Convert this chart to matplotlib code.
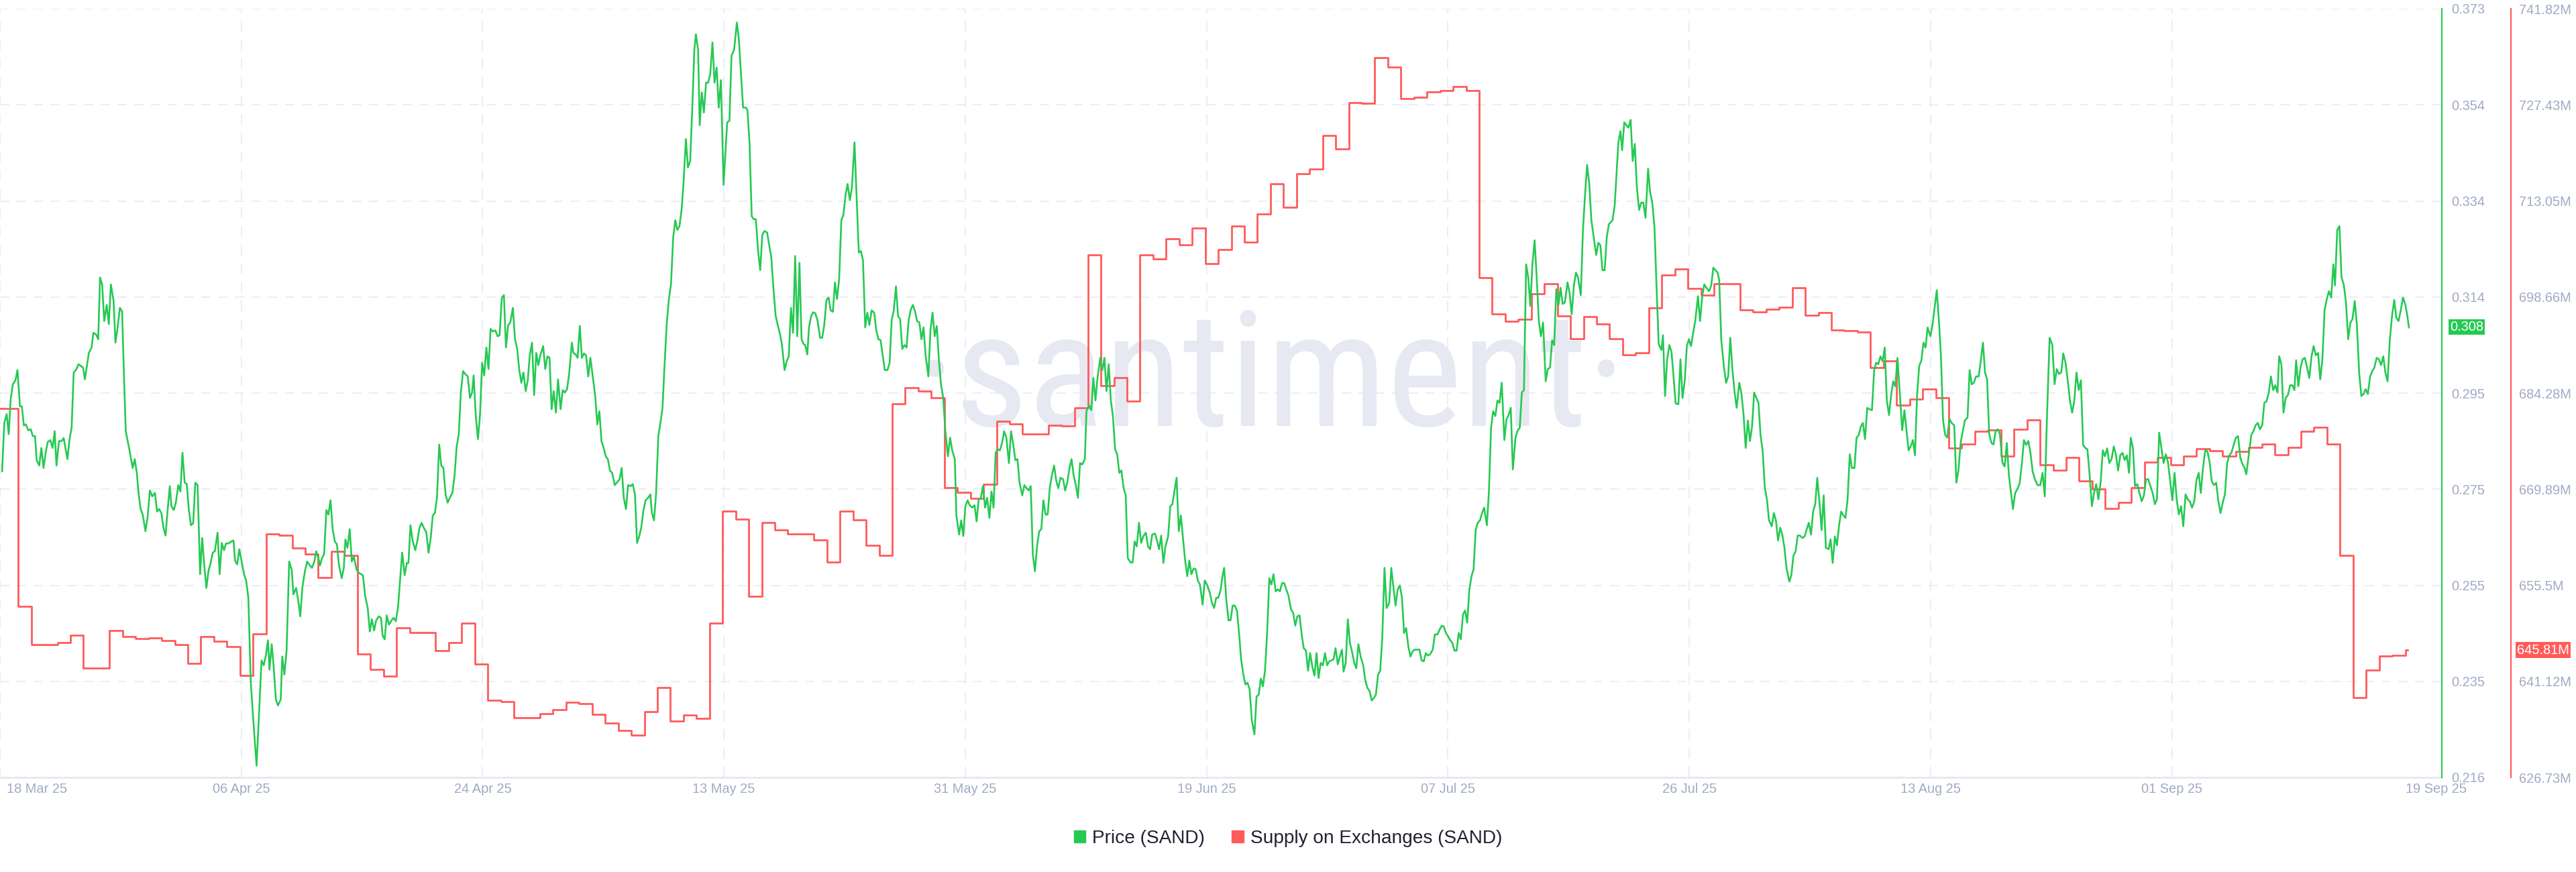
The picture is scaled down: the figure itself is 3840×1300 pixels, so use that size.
import numpy as np
import matplotlib
matplotlib.use("Agg")
import matplotlib.pyplot as plt
from matplotlib import font_manager
from matplotlib.patches import Patch
from matplotlib.transforms import blended_transform_factory, ScaledTranslation

GREEN = "#26c953"
RED = "#ff5b5b"
GRID = "#e6e8f2"
TICK = "#a0aac4"

# x values are days after 18 Mar 2025 00:00
price_day = [
    0.16, 0.33, 0.51, 0.67, 0.81, 0.98, 1.18, 1.34, 1.53, 1.67,
    1.83, 1.99, 2.16, 2.36, 2.52, 2.69, 2.81, 3.01, 3.17, 3.34,
    3.50, 3.66, 3.86, 4.03, 4.19, 4.33, 4.52, 4.72, 4.88, 5.17,
    5.33, 5.49, 5.65, 5.86, 6.02, 6.37, 6.51, 6.81, 7.02, 7.16,
    7.36, 7.53, 7.67, 7.83, 7.99, 8.18, 8.34, 8.50, 8.71, 8.85,
    8.99, 9.19, 9.36, 9.48, 9.64, 9.93, 10.17, 10.33, 10.49, 10.62,
    10.78, 10.94, 11.15, 11.31, 11.49, 11.67, 11.88, 12.04, 12.20, 12.37,
    12.53, 12.69, 12.85, 13.02, 13.14, 13.32, 13.48, 13.67, 13.83, 13.99,
    14.16, 14.32, 14.48, 14.64, 14.81, 14.97, 15.15, 15.34, 15.50, 15.66,
    15.82, 15.99, 16.15, 16.31, 16.47, 16.68, 16.84, 17.00, 17.17, 17.33,
    17.53, 17.74, 17.90, 18.02, 18.18, 18.35, 18.51, 18.71, 18.87, 19.04,
    19.22, 19.42, 19.67, 19.85, 20.05, 20.22, 20.38, 20.54, 20.66, 20.83,
    20.99, 21.15, 21.31, 21.52, 21.64, 21.80, 21.97, 22.17, 22.37, 22.49,
    22.70, 22.86, 23.02, 23.19, 23.39, 23.55, 23.75, 23.92, 24.12, 24.24,
    24.41, 24.53, 24.69, 24.85, 25.02, 25.18, 25.34, 25.50, 25.67, 25.83,
    25.99, 26.20, 26.36, 26.48, 26.64, 26.81, 26.97, 27.13, 27.33, 27.50,
    27.82, 27.99, 28.19, 28.35, 28.51, 28.68, 28.84, 29.04, 29.21, 29.33,
    29.49, 29.65, 29.82, 30.02, 30.18, 30.34, 30.51, 30.67, 30.83,
    30.86, 31.02, 31.19, 31.31, 31.47, 31.63, 31.84, 32.00, 32.16, 32.32,
    32.49, 32.69, 32.85, 33.02, 33.18, 33.34, 33.50, 33.67, 33.83, 33.99,
    34.16, 34.32, 34.48, 34.68, 34.85, 35.01, 35.17, 35.33, 35.50, 35.66,
    35.86, 36.03, 36.19, 36.31, 36.47, 36.64, 36.80, 36.96, 37.12, 37.29,
    37.45, 37.61, 37.78, 37.98, 38.14, 38.30, 38.47, 38.63, 38.79, 38.96,
    39.12, 39.32, 39.48, 39.65, 39.81, 39.97, 40.13, 40.30, 40.46, 40.62,
    40.79, 40.95, 41.11, 41.27, 41.44, 41.64, 41.80, 41.97, 42.13, 42.29,
    42.45, 42.62, 42.78, 42.98, 43.14, 43.31, 43.47, 43.63, 43.84, 43.96,
    44.12, 44.28, 44.45, 44.61, 44.77, 44.93, 45.10, 45.26, 45.42, 45.63,
    45.79, 45.95, 46.11, 46.28, 46.44, 46.60, 46.76, 46.93, 47.13, 47.29,
    47.50, 47.66, 47.82, 47.99, 48.15, 48.35, 48.51, 48.68, 48.84, 49.00,
    49.16, 49.33, 49.49, 49.69, 49.86, 49.98, 50.14, 50.30, 50.47, 50.63,
    50.79, 50.95, 51.12, 51.28, 51.44, 51.61, 51.77, 51.93, 52.09, 52.26,
    52.42, 52.58, 52.74, 52.91, 53.07, 53.23, 53.35, 53.52, 53.64, 53.80,
    53.96, 54.13, 54.29, 54.45, 54.62, 54.78, 54.94, 55.10, 55.27, 55.47,
    55.59, 55.75, 55.92, 56.08, 56.28, 56.49, 56.65, 56.81, 56.97, 57.18,
    57.30, 57.46, 57.63, 57.79, 57.95, 58.11, 58.28, 58.44, 58.60, 58.81,
    58.97, 59.13, 59.29, 59.46, 59.62, 59.78, 59.94, 60.15, 60.31, 60.47,
    60.64, 60.80, 60.96, 61.12, 61.29, 61.45, 61.61,
    61.73, 61.89, 62.02, 62.18, 62.34, 62.50, 62.67, 62.87, 63.03, 63.19,
    63.36, 63.52, 63.68, 63.85, 64.01, 64.17, 64.33, 64.50, 64.66, 64.82,
    64.98, 65.15, 65.31, 65.51, 65.68, 65.84, 66.00, 66.16, 66.33, 66.49,
    66.65, 66.82, 67.02, 67.18, 67.34, 67.51, 67.67, 67.83, 68.04, 68.20,
    68.36, 68.52, 68.69, 68.85, 69.01, 69.17, 69.34, 69.50, 69.66, 69.83,
    69.99, 70.15, 70.31, 70.48, 70.64, 70.80, 70.96, 71.17, 71.33, 71.49,
    71.66, 71.82, 71.98, 72.14, 72.31, 72.47, 72.67, 72.84, 73.00, 73.20,
    73.32, 73.53, 73.69, 73.85, 74.01, 74.18, 74.34, 74.54, 74.71, 74.87,
    75.03, 75.19, 75.36, 75.52, 75.68, 75.85, 76.01, 76.17, 76.33, 76.50,
    76.66, 76.82, 76.98, 77.15, 77.35, 77.51, 77.68, 77.84, 78.00, 78.16,
    78.37, 78.53, 78.69, 78.86, 79.02, 79.18, 79.34, 79.51, 79.67, 79.83,
    79.99, 80.16, 80.32, 80.48, 80.64, 80.81, 80.97, 81.13, 81.30, 81.50,
    81.66, 81.82, 81.99, 82.15, 82.31, 82.48, 82.64, 82.80, 82.96, 83.17,
    83.29, 83.49, 83.66, 83.82, 83.98, 84.14, 84.35, 84.51, 84.67, 84.83,
    85.00, 85.16, 85.32, 85.49, 85.65, 85.81, 85.97, 86.14, 86.30, 86.46,
    86.67, 86.83, 86.99, 87.15, 87.32, 87.48, 87.64, 87.84, 88.01, 88.17,
    88.33, 88.54, 88.70, 88.86, 89.02, 89.19, 89.35, 89.55, 89.72, 89.88,
    90.04, 90.20, 90.37, 90.53, 90.69, 90.85, 91.02, 91.18, 91.34, 91.51,
    91.67, 91.83, 91.99, 92.20, 92.36, 92.52,
    92.59, 92.75, 92.92, 93.08, 93.24, 93.40, 93.57, 93.73, 93.85, 94.01,
    94.18, 94.34, 94.50, 94.66, 94.83, 94.99, 95.15, 95.32, 95.48, 95.64,
    95.80, 95.97, 96.17, 96.33, 96.50, 96.66, 96.82, 96.98, 97.15, 97.31,
    97.47, 97.63, 97.80, 97.96, 98.12, 98.29, 98.45, 98.61, 98.77, 98.98,
    99.14, 99.30, 99.46, 99.63, 99.79, 99.95, 100.12, 100.28, 100.44, 100.60,
    100.77, 100.93, 101.09, 101.25, 101.42, 101.58, 101.74, 101.91, 102.07, 102.23,
    102.39, 102.56, 102.72, 102.88, 103.00, 103.17, 103.33, 103.49, 103.65, 103.82,
    103.98, 104.14, 104.31, 104.51, 104.67, 104.83, 105.00, 105.16, 105.32, 105.48,
    105.65, 105.81, 105.97, 106.14, 106.30, 106.50, 106.66, 106.83, 106.99, 107.15,
    107.32, 107.48, 107.64, 107.80, 107.97, 108.13, 108.29, 108.45, 108.82, 108.98,
    109.15, 109.31, 109.47, 109.63, 109.84, 110.00, 110.20, 110.37, 110.53, 110.69,
    110.85, 111.02, 111.18, 111.34, 111.50, 111.67, 111.83, 111.99, 112.16, 112.32,
    112.48, 112.64, 112.81, 112.97, 113.13, 113.29, 113.46, 113.62, 113.78, 113.99,
    114.15, 114.31, 114.47, 114.64, 114.80, 114.96, 115.13, 115.33, 115.49, 115.65,
    115.82, 115.98, 116.18, 116.35, 116.51, 116.67, 116.83, 117.00, 117.16, 117.32,
    117.48, 117.65, 117.81, 117.97, 118.13, 118.30, 118.50, 118.66, 118.83, 118.99,
    119.15, 119.31, 119.48, 119.64, 119.80, 119.97, 120.17, 120.33, 120.49, 120.66,
    120.82, 120.98, 121.19, 121.35, 121.51, 121.67, 121.84, 122.00, 122.20, 122.37,
    122.53, 122.69, 122.85, 123.02, 123.18, 123.34,
    123.46, 123.62, 123.79, 123.95, 124.07, 124.23, 124.36, 124.52, 124.68, 124.84,
    125.01, 125.17, 125.33, 125.49, 125.66, 125.82, 125.98, 126.15, 126.35, 126.51,
    126.67, 126.84, 127.00, 127.16, 127.37, 127.49, 127.65, 127.81, 127.98, 128.14,
    128.30, 128.46, 128.67, 128.83, 128.99, 129.16, 129.32, 129.48, 129.64, 129.81,
    129.97, 130.17, 130.33, 130.50, 130.66, 130.82, 131.03, 131.19, 131.35, 131.51,
    131.68, 131.80, 131.96, 132.17, 132.33, 132.49, 132.65, 132.82, 132.98, 133.14,
    133.34, 133.51, 133.67, 133.83, 134.00, 134.16, 134.32, 134.48, 134.65, 134.81,
    134.97, 135.13, 135.30, 135.46, 135.62, 135.83, 135.99, 136.15, 136.31, 136.48,
    136.64, 136.80, 136.96, 137.17, 137.33, 137.49, 137.66, 137.82, 137.98, 138.19,
    138.35, 138.51, 138.67, 138.84, 139.00, 139.16, 139.32, 139.49, 139.65, 139.81,
    139.98, 140.18, 140.34, 140.50, 140.67, 140.83, 140.99, 141.15, 141.32, 141.48,
    141.64, 141.81, 141.97, 142.17, 142.33, 142.50, 142.66, 142.82, 142.98, 143.15,
    143.31, 143.51, 143.68, 143.84, 144.00, 144.16, 144.33, 144.49, 144.65, 144.82,
    144.98, 145.14, 145.30, 145.47, 145.63, 145.83, 146.00, 146.16, 146.32, 146.48,
    146.65, 146.81, 146.97, 147.13, 147.30, 147.46, 147.62, 147.78, 147.99, 148.15,
    148.31, 148.48, 148.64, 148.80, 148.96, 149.13, 149.29, 149.45, 149.62, 149.82,
    149.98, 150.14, 150.31, 150.47, 150.63, 150.84, 151.00, 151.16, 151.32, 151.49,
    151.69, 151.85, 152.02, 152.18, 152.34, 152.50, 152.67, 152.83, 152.99, 153.15,
    153.32, 153.52, 153.68, 153.85, 154.01, 154.17,
    154.32, 154.49, 154.66, 154.82, 154.99, 155.16, 155.33, 155.50, 155.66, 155.83,
    156.00, 156.21, 156.42, 156.59, 156.76, 156.92, 157.13, 157.34, 157.51, 157.68,
    157.85, 158.02, 158.18, 158.35, 158.52, 158.69, 158.86, 159.02, 159.19, 159.36,
    159.53, 159.70, 159.86, 160.03, 160.20, 160.37, 160.54, 160.70, 160.87, 161.04,
    161.21, 161.37, 161.54, 161.71, 161.88, 162.05, 162.21, 162.38, 162.55, 162.72,
    162.89, 163.05, 163.22, 163.35, 163.52, 163.68, 163.85, 164.02, 164.19, 164.36,
    164.52, 164.69, 164.86, 165.03, 165.20, 165.36, 165.53, 165.70, 165.87, 166.04,
    166.20, 166.37, 166.54, 166.71, 166.88, 167.04, 167.21, 167.38, 167.55, 167.72,
    167.88, 168.05, 168.22, 168.39, 168.56, 168.72, 168.89, 169.06, 169.23, 169.39,
    169.56, 169.73, 169.90, 170.07, 170.23, 170.40, 170.57, 170.74, 170.91, 171.07,
    171.24, 171.41, 171.58, 171.75, 171.91, 172.08, 172.21, 172.42, 172.59, 172.75,
    172.92, 173.09, 173.26, 173.43, 173.59, 173.76, 173.93, 174.10, 174.27, 174.43,
    174.60, 174.73, 174.90, 175.06, 175.23, 175.40, 175.57, 175.74, 175.90, 176.03,
    176.20, 176.37, 176.53, 176.70, 176.87, 177.04, 177.21, 177.37, 177.54, 177.71,
    177.88, 178.04, 178.21, 178.38, 178.55, 178.72, 178.88, 179.01, 179.18, 179.35,
    179.51, 179.68, 179.85, 180.02, 180.19, 180.35, 180.52, 180.69, 180.86, 181.03,
    181.19, 181.36, 181.53, 181.70, 181.87, 182.03, 182.20, 182.37, 182.54, 182.71,
    182.87, 183.04, 183.21, 183.38, 183.55, 183.71, 183.88, 184.05, 184.22, 184.39,
    184.55, 184.68,
]

price = [
    .2785, .2884, .2902, .2861, .2930, .2963, .2971, .2992, .2918, .2918,
    .2879, .2881, .2869, .2871, .2857, .2857, .2808, .2797, .2833, .2792,
    .2823, .2845, .2849, .2833, .2867, .2797, .2847, .2847, .2853, .2810,
    .2851, .2874, .2987, .2994, .3004, .2997, .2973, .3027, .3038, .3068,
    .3065, .3055, .3181, .3167, .3092, .3125, .3086, .3167, .3133, .3048,
    .3073, .3119, .3112, .3002, .2867, .2828, .2792, .2810, .2782, .2741,
    .2708, .2697, .2663, .2690, .2746, .2734, .2741, .2703, .2708, .2700,
    .2670, .2654, .2706, .2755, .2714, .2706, .2721, .2757, .2744, .2823,
    .2762, .2759, .2706, .2675, .2679, .2762, .2757, .2575, .2649, .2593,
    .2547, .2583, .2598, .2619, .2622, .2660, .2575, .2639, .2624, .2638,
    .2638, .2642, .2644, .2603, .2595, .2626, .2603, .2575, .2562, .2527,
    .2358, .2276, .2184, .2286, .2399, .2389, .2409, .2440, .2380, .2432,
    .2383, .2319, .2307, .2319, .2407, .2370, .2419, .2601, .2583, .2534,
    .2547, .2522, .2489, .2550, .2583, .2601, .2593, .2588, .2603, .2622,
    .2608, .2593, .2608, .2616, .2706, .2697, .2726, .2667, .2642, .2636,
    .2593, .2567, .2588, .2646, .2629, .2667, .2601, .2611, .2585, .2578,
    .2573, .2532, .2506, .2458, .2483, .2460, .2481, .2489, .2486, .2450,
    .2442, .2491, .2472, .2481, .2486, .2479, .2506, .2562, .2619,
    .2613, .2573, .2598, .2598, .2675, .2644, .2624, .2644, .2670, .2680,
    .2670, .2660, .2619, .2649, .2695, .2700, .2731, .2840, .2797, .2792,
    .2738, .2721, .2731, .2741, .2777, .2836, .2861, .2946, .2990, .2984,
    .2979, .2935, .2946, .2981, .2900, .2851, .2900, .3007, .2981, .3038,
    .2994, .3076, .3071, .3073, .3061, .3063, .3140, .3145, .3038, .3084,
    .3089, .3119, .3055, .3035, .2992, .2966, .2987, .2949, .2971, .3024,
    .3048, .2941, .3027, .3002, .3024, .3041, .2994, .3020, .3017, .2912,
    .2949, .2905, .2973, .2912, .2951, .2946, .2953, .2984, .3048, .3027,
    .3024, .3017, .3082, .3017, .3026, .3022, .2979, .3017, .2984, .2939,
    .2881, .2908, .2847, .2833, .2816, .2810, .2787, .2782, .2757, .2762,
    .2769, .2792, .2731, .2708, .2757, .2755, .2759, .2738, .2639, .2652,
    .2670, .2706, .2726, .2731, .2738, .2700, .2685, .2741, .2857, .2884,
    .2915, .3004, .3089, .3137, .3167, .3263, .3298, .3278, .3286, .3321,
    .3382, .3464, .3406, .3419, .3525, .3646, .3678, .3646, .3492, .3559,
    .3518, .3579, .3579, .3597, .3661, .3579, .3610, .3528, .3584, .3370,
    .3426, .3498, .3501, .3634, .3646, .3702, .3666, .3595, .3528, .3528,
    .3523, .3457, .3306, .3300, .3300, .3237, .3196, .3268, .3276, .3273,
    .3247, .3222, .3160, .3104, .3084, .3068, .3045, .2992, .3010, .3020,
    .3119, .3068, .3225, .3061, .3211, .3055, .3045,
    .3043, .3024, .3079, .3102, .3110, .3108, .3094, .3058, .3058, .3084,
    .3135, .3140, .3114, .3111, .3171, .3137, .3178, .3298, .3309, .3349,
    .3372, .3339, .3365, .3457, .3339, .3232, .3235, .3216, .3079, .3109,
    .3084, .3114, .3109, .3073, .3055, .3053, .3022, .2992, .2992, .3007,
    .3094, .3114, .3163, .3102, .3096, .3035, .3043, .3038, .3094, .3116,
    .3125, .3112, .3092, .3089, .3055, .3079, .3022, .2979, .3073, .3109,
    .3061, .3082, .3012, .2963, .2935, .2869, .2816, .2854, .2828, .2810,
    .2695, .2656, .2685, .2653, .2714, .2726, .2716, .2711, .2716, .2683,
    .2728, .2731, .2755, .2711, .2731, .2690, .2744, .2711, .2823, .2830,
    .2828, .2843, .2867, .2854, .2802, .2867, .2840, .2808, .2810, .2762,
    .2736, .2757, .2751, .2746, .2755, .2616, .2581, .2634, .2663, .2667,
    .2726, .2697, .2697, .2751, .2777, .2797, .2767, .2751, .2772, .2769,
    .2746, .2762, .2792, .2810, .2777, .2757, .2731, .2802, .2799, .2810,
    .2908, .2920, .2910, .2976, .2930, .2976, .3017, .2992, .3017, .2949,
    .3004, .2930, .2898, .2830, .2820, .2782, .2787, .2751, .2736, .2608,
    .2599, .2599, .2642, .2632, .2680, .2639, .2652, .2660, .2632, .2626,
    .2656, .2658, .2644, .2626, .2654, .2598, .2632, .2652, .2714, .2718,
    .2746, .2772, .2663, .2695, .2649, .2605, .2571, .2603, .2575, .2587,
    .2585, .2562, .2554, .2513, .2562, .2554,
    .2550, .2537, .2516, .2506, .2527, .2527, .2542, .2573, .2588, .2524,
    .2481, .2481, .2511, .2511, .2501, .2455, .2401, .2370, .2350, .2353,
    .2340, .2276, .2248, .2325, .2329, .2362, .2346, .2378, .2460, .2567,
    .2554, .2575, .2540, .2544, .2540, .2557, .2557, .2544, .2532, .2503,
    .2496, .2470, .2489, .2491, .2452, .2424, .2419, .2378, .2414, .2387,
    .2368, .2414, .2363, .2394, .2389, .2414, .2389, .2397, .2399, .2401,
    .2424, .2391, .2407, .2421, .2376, .2394, .2483, .2435, .2417, .2394,
    .2383, .2432, .2407, .2389, .2358, .2343, .2336, .2317, .2322, .2329,
    .2370, .2378, .2445, .2588, .2506, .2516, .2588, .2547, .2511, .2544,
    .2552, .2527, .2455, .2465, .2427, .2407, .2417, .2421, .2421, .2399,
    .2397, .2414, .2409, .2411, .2421, .2452, .2452, .2462, .2470, .2468,
    .2455, .2448, .2440, .2435, .2419, .2419, .2455, .2442, .2493, .2501,
    .2476, .2542, .2571, .2585, .2665, .2680, .2685, .2700, .2711, .2675,
    .2746, .2874, .2908, .2898, .2930, .2925, .2966, .2849, .2891, .2900,
    .2915, .2789, .2853, .2869, .2874, .2946, .2951, .3208, .3181, .3123,
    .3208, .3257, .3181, .3094, .3061, .3089, .2969, .2994, .2997, .3053,
    .3043, .3157, .3125, .3160, .3127, .3130, .3171, .3150, .3106, .3165,
    .3191, .3181, .3145, .3276, .3347, .3411, .3372, .3298, .3260, .3227,
    .3252, .3247, .3196, .3196, .3263, .3290,
    .3293, .3298, .3329, .3401, .3457, .3480, .3441, .3498, .3492, .3487,
    .3503, .3419, .3454, .3365, .3319, .3334, .3334, .3303, .3403, .3354,
    .3334, .3283, .3160, .3045, .3033, .3063, .2939, .3014, .3043, .3030,
    .2979, .2924, .2922, .3014, .2935, .2971, .3041, .3055, .3041, .3068,
    .3094, .3143, .3092, .3143, .3167, .3160, .3153, .3165, .3201, .3196,
    .3191, .3176, .3053, .2997, .2966, .2979, .3058, .2992, .2946, .2915,
    .2966, .2943, .2900, .2833, .2889, .2847, .2877, .2946, .2935, .2925,
    .2859, .2828, .2751, .2728, .2685, .2673, .2700, .2685, .2644, .2670,
    .2656, .2629, .2588, .2560, .2573, .2613, .2622, .2654, .2654, .2649,
    .2652, .2667, .2680, .2656, .2703, .2718, .2772, .2721, .2665, .2736,
    .2629, .2626, .2646, .2598, .2652, .2634, .2675, .2703, .2695, .2690,
    .2726, .2820, .2792, .2792, .2854, .2859, .2877, .2884, .2851, .2915,
    .2912, .2910, .2992, .3007, .3004, .3020, .3010, .3038, .2930, .2900,
    .2941, .2969, .2959, .3017, .2951, .2869, .2910, .2869, .2828, .2836,
    .2849, .2818, .2941, .3000, .3012, .3048, .3038, .3079, .3061, .3084,
    .3119, .3155, .3094, .3022, .2889, .2859, .2854, .2892, .2884, .2879,
    .2762, .2787, .2843, .2867, .2889, .2895, .2992, .2963, .2966, .2979,
    .2979, .3010, .3048, .2987, .2973, .2861, .2843, .2840, .2867, .2871,
    .2861, .2802, .2795, .2843, .2777, .2741,
    .2708, .2741, .2749, .2759, .2797, .2849, .2839, .2847, .2823, .2785,
    .2769, .2757, .2757, .2782, .2734, .2889, .3058, .3043, .2963, .2994,
    .2984, .2987, .3026, .3007, .2971, .2930, .2905, .2928, .2987, .2951,
    .2971, .2839, .2833, .2830, .2777, .2714, .2741, .2759, .2728, .2762,
    .2828, .2816, .2832, .2802, .2810, .2836, .2820, .2787, .2818, .2823,
    .2808, .2818, .2782, .2854, .2833, .2755, .2759, .2741, .2724, .2736,
    .2769, .2769, .2755, .2741, .2718, .2728, .2864, .2833, .2802, .2820,
    .2805, .2767, .2726, .2782, .2726, .2697, .2714, .2673, .2738, .2728,
    .2724, .2711, .2724, .2767, .2782, .2741, .2792, .2828, .2826, .2805,
    .2765, .2757, .2762, .2724, .2700, .2721, .2738, .2802, .2818, .2823,
    .2839, .2854, .2857, .2813, .2800, .2792, .2779, .2823, .2859, .2867,
    .2879, .2884, .2871, .2879, .2925, .2928, .2946, .2979, .2951, .2961,
    .2946, .3020, .3004, .2905, .2935, .2941, .2961, .2961, .2951, .3012,
    .2959, .2997, .3014, .3017, .2997, .2976, .3020, .3041, .3022, .3027,
    .2973, .3012, .3114, .3137, .3153, .3140, .3208, .3165, .3278, .3286,
    .3181, .3167, .3130, .3055, .3089, .3096, .3133, .3084, .2987, .2939,
    .2943, .2953, .2943, .2979, .2990, .2997, .3017, .3014, .3002, .3020,
    .2987, .2969, .3053, .3102, .3135, .3099, .3092, .3114, .3140, .3127,
    .3104, .3079,
]

# supply on exchanges (millions of SAND), one value per day;
# the first value starts at supply_start, the last one ends at supply_end
supply_start = -0.6
supply_end = 184.6
supply = [
    681.95, 681.95, 652.36, 646.66, 646.66, 646.89, 648.01, 643.07, 643.14, 648.76,
    647.86, 647.56, 647.64, 647.26, 646.66, 643.82, 647.86, 647.11, 646.36, 642.02,
    648.24, 663.15, 663.00, 661.12, 660.15, 656.63, 660.60, 660.00, 645.17, 642.92,
    641.87, 649.14, 648.39, 648.39, 645.76, 646.89, 649.81, 643.67, 638.27, 638.12,
    635.65, 635.65, 636.32, 636.92, 637.97, 637.82, 636.17, 634.90, 633.78, 633.03,
    636.62, 640.22, 635.13, 636.02, 635.57, 649.81, 666.59, 665.40, 653.86, 664.87,
    663.75, 663.15, 663.15, 662.25, 658.95, 666.59, 665.25, 661.50, 660.00, 682.63,
    685.10, 684.58, 683.53, 670.12, 669.37, 668.54, 670.64, 680.08, 679.63, 678.13,
    678.13, 679.48, 679.33, 682.10, 704.96, 685.33, 686.60, 683.08, 704.96, 704.36,
    707.36, 706.46, 709.00, 703.61, 705.78, 709.30, 706.83, 711.10, 715.60, 712.08,
    717.10, 717.84, 722.79, 720.84, 727.81, 727.66, 734.48, 733.13, 728.33, 728.56,
    729.38, 729.53, 730.13, 729.53, 701.59, 696.12, 694.99, 695.37, 699.11, 700.61,
    695.82, 692.37, 695.74, 694.62, 692.37, 689.97, 690.27, 697.02, 701.96, 702.86,
    699.94, 698.96, 700.61, 700.61, 696.72, 696.42, 696.87, 697.17, 700.09, 695.89,
    696.34, 693.72, 693.57, 693.42, 688.10, 689.07, 682.48, 683.38, 684.88, 683.60,
    676.04, 676.64, 678.58, 678.73, 674.84, 678.88, 680.23, 673.49, 672.74, 674.61,
    671.09, 669.89, 667.04, 667.87, 670.12, 673.94, 674.61, 673.49, 674.84, 675.89,
    675.59, 674.84, 675.51, 676.11, 676.64, 674.99, 676.19, 678.58, 679.11, 676.64,
    660.00, 638.65, 642.77, 644.87, 645.02, 645.81,
]

x_tick_day = [0, 18.5, 37, 55.5, 74, 92.5, 111, 129.5, 148, 166.5, 185]
x_tick_label = ["18 Mar 25", "06 Apr 25", "24 Apr 25", "13 May 25", "31 May 25",
                "19 Jun 25", "07 Jul 25", "26 Jul 25", "13 Aug 25", "01 Sep 25",
                "19 Sep 25"]
price_range = (0.216, 0.373)
price_tick_label = ["0.216", "0.235", "0.255", "0.275", "0.295",
                    "0.314", "0.334", "0.354", "0.373"]
supply_range = (626.73, 741.82)
supply_tick_label = ["626.73M", "641.12M", "655.5M", "669.89M", "684.28M",
                     "698.66M", "713.05M", "727.43M", "741.82M"]
last_price = 0.308
last_supply = 645.81
x_max_day = 187.2

assert len(price_day) == len(price)

plt.rcParams["font.family"] = ["Liberation Sans", "DejaVu Sans"]
plt.rcParams["lines.scale_dashes"] = False

fig = plt.figure(figsize=(38.4, 13), dpi=100)
ax = fig.add_axes([0, 141 / 1300, 3640 / 3840, 1146 / 1300])
ax2 = ax.twinx()

# supply (outer axis, drawn underneath)
sx = np.append(supply_start + np.arange(len(supply)), supply_end)
sy = np.append(supply, supply[-1])
ax.plot(sx, sy, drawstyle="steps-post", color=RED, lw=2.0, zorder=2)

# price (inner axis, on top)
ax2.plot(price_day, price, color=GREEN, lw=1.9, solid_joinstyle="round", zorder=3)

ax.set_xlim(0, x_max_day)
ax.set_ylim(*supply_range)
ax2.set_ylim(*price_range)

ax.set_yticks(np.linspace(*supply_range, 9), supply_tick_label)
ax2.set_yticks(np.linspace(*price_range, 9), price_tick_label)
ax.yaxis.tick_right()
ax.yaxis.set_label_position("right")

ax.set_xticks(x_tick_day, x_tick_label)

for s in ["top", "left"]:
    ax.spines[s].set_visible(False)
for s in ["top", "left", "bottom"]:
    ax2.spines[s].set_visible(False)
ax.spines["right"].set_position(("outward", 74.2))
ax.spines["right"].set_color(RED)
ax.spines["right"].set_linewidth(1.5)
ax.spines["bottom"].set_color("#e3e6f1")
ax.spines["bottom"].set_linewidth(1.8)
ax2.spines["right"].set_color(GREEN)
ax2.spines["right"].set_linewidth(1.5)

ax.tick_params(axis="y", length=0, pad=8.6, labelsize=14.4, labelcolor=TICK)
ax2.tick_params(axis="y", length=0, pad=10, labelsize=14.4, labelcolor=TICK)
ax.tick_params(axis="x", length=0, pad=5.8, labelsize=14.4, labelcolor=TICK)

# grid
ax.set_axisbelow(True)
ax.grid(axis="y", color=GRID, linewidth=1.1, linestyle=(0, (10, 8)))
for d in x_tick_day[:-1]:
    ax.axvline(d, color=GRID, linewidth=1.1, linestyle=(0, (12, 8)), zorder=0.5)

# nudge the first and last date labels like the original
lbls = ax.get_xticklabels()
lbls[0].set_ha("left")
lbls[0].set_transform(lbls[0].get_transform() + ScaledTranslation(0.10, 0, fig.dpi_scale_trans))
lbls[-1].set_transform(lbls[-1].get_transform() + ScaledTranslation(0.34, 0, fig.dpi_scale_trans))

# watermark: pick a narrow face if one is installed, size it to the original width
installed = {f.name for f in font_manager.fontManager.ttflist}
if "Liberation Sans Narrow" in installed:
    wm_family, wm_size = "Liberation Sans Narrow", 184
elif "Roboto Condensed" in installed:
    wm_family, wm_size = "Roboto Condensed", 172
elif "Open Sans Condensed" in installed:
    wm_family, wm_size = "Open Sans Condensed", 180
else:
    wm_family, wm_size = "Liberation Sans", 146
ax.text(0.5206, 0.457, "\u00b7santiment\u00b7", transform=ax.transAxes,
        ha="center", va="baseline", fontsize=wm_size, color="#e6e8f2",
        family=[wm_family, "DejaVu Sans"], zorder=0.2)

# last value tags
t2 = blended_transform_factory(ax2.transAxes, ax2.transData)
ax2.text(3652 / 3640, last_price, f"{last_price:.3f}", transform=t2,
         ha="left", va="center", color="white", fontsize=14.4, clip_on=False,
         bbox=dict(boxstyle="square,pad=0.12", fc=GREEN, ec="none"), zorder=6)
t1 = blended_transform_factory(ax.transAxes, ax.transData)
ax.text(3752 / 3640, last_supply, f"{last_supply:.2f}M", transform=t1,
        ha="left", va="center", color="white", fontsize=14.4, clip_on=False,
        bbox=dict(boxstyle="square,pad=0.12", fc=RED, ec="none"), zorder=6)

handles = [Patch(color=GREEN, label="Price (SAND)"),
           Patch(color=RED, label="Supply on Exchanges (SAND)")]
fig.legend(handles=handles, loc="center", bbox_to_anchor=(0.5, 50 / 1300), ncol=2,
           frameon=False, fontsize=20.2, handlelength=0.62, handleheight=0.62,
           handletextpad=0.36, columnspacing=1.42, labelcolor="#1f2232",
           borderaxespad=0, borderpad=0)

fig.savefig("out.png", dpi=100)
